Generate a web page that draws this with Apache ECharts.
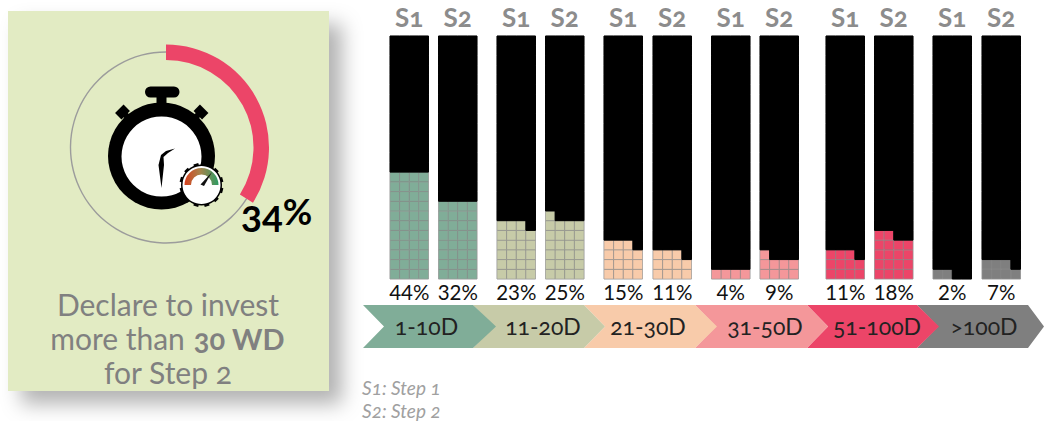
<!DOCTYPE html>
<html>
<head>
<meta charset="utf-8">
<style>
html,body{margin:0;padding:0;background:#fff}
#chart{width:1044px;height:421px}
/* old-style figures for the text set in bare Lato */
svg text[style*="Lato"]:not([style*="sans-serif"]),svg tspan[style*="Lato"]:not([style*="sans-serif"]){font-feature-settings:"onum" 1 !important;font-variant-numeric:oldstyle-nums !important}
svg text[style*="sans-serif"]{font-feature-settings:"lnum" 1 !important}
</style>
<script src="https://cdn.jsdelivr.net/npm/echarts@6/dist/echarts.min.js"></script>
</head>
<body>
<div id="chart"></div>
<script>
const categories = ['1-10D', '11-20D', '21-30D', '31-50D', '51-100D', '>100D'];
const step1Share = [44, 23, 15, 4, 11, 2];
const step2Share = [32, 25, 11, 9, 18, 7];
const stepLabels = ['S1', 'S2'];
const declaredShare = 34;
const palette = ['#80AD98', '#C7CBA8', '#F8CBAA', '#F4979A', '#EC4568', '#7F7F7F'];

// Waffle layout: 100 unit cells in 4 columns by 25 rows
const COLS = 4, ROWS = 25;
const barLefts = [390, 438.5, 497, 545.5, 604, 653, 711.5, 760, 826, 874.5, 933, 982];
const BAR_W = 38.5, BAR_TOP = 36, BAR_H = 243;
const RING = {x: 166, y: 147.5};
const oldStyle = 'Lato';
const plain = 'Lato, sans-serif';

function waffleCells(share) {
  const cells = [];
  for (let i = 0; i < COLS * ROWS; i++) {
    cells.push([i % COLS, Math.floor(i / COLS), i < share ? 1 : 0]);
  }
  return cells;
}

const grids = [], xAxes = [], yAxes = [], series = [], graphics = [];

// Panel on the left with its drop shadow
graphics.push({type: 'rect', z: 0, shape: {x: 8, y: 11, width: 321, height: 380},
  style: {fill: '#E2EBC3', shadowBlur: 20, shadowOffsetX: 13, shadowOffsetY: 13, shadowColor: 'rgba(0,0,0,0.3)'}});

// Progress ring
series.push({type: 'pie', silent: true, z: 2, center: [RING.x, RING.y], radius: [94.8, 96.2], startAngle: 90,
  label: {show: false}, labelLine: {show: false}, animation: false,
  data: [{value: declaredShare, itemStyle: {color: '#9C9C9C'}}, {value: 100 - declaredShare, itemStyle: {color: '#9C9C9C'}}]});
series.push({type: 'pie', silent: true, z: 3, center: [RING.x, RING.y], radius: [87.5, 103], startAngle: 90,
  label: {show: false}, labelLine: {show: false}, animation: false,
  data: [{value: declaredShare, itemStyle: {color: '#EC4568'}}, {value: 100 - declaredShare, itemStyle: {color: 'rgba(0,0,0,0)'}}]});

// Waffle bars, one grid per step and category
categories.forEach((cat, c) => {
  [step1Share[c], step2Share[c]].forEach((share, s) => {
    const idx = grids.length;
    const left = barLefts[idx];
    grids.push({left: left, top: BAR_TOP, width: BAR_W, height: BAR_H, show: true,
      backgroundColor: '#000', borderColor: '#C4C4C4', borderWidth: 1});
    xAxes.push({type: 'value', gridIndex: idx, min: 0, max: COLS, show: false});
    yAxes.push({type: 'value', gridIndex: idx, min: 0, max: ROWS, show: false});
    series.push({
      type: 'custom', name: cat + ' ' + stepLabels[s], xAxisIndex: idx, yAxisIndex: idx, silent: true, animation: false,
      encode: {x: 0, y: 1},
      data: waffleCells(share),
      renderItem(params, api) {
        const a = api.coord([api.value(0), api.value(1)]);
        const b = api.coord([api.value(0) + 1, api.value(1) + 1]);
        const filled = api.value(2) === 1;
        return {type: 'rect', shape: {x: a[0], y: b[1], width: b[0] - a[0], height: a[1] - b[1]},
          style: {fill: filled ? palette[c] : '#000', stroke: filled ? 'rgba(150,150,150,0.55)' : '#000', lineWidth: 1}};
      }
    });
    graphics.push({type: 'text', z: 20, style: {x: left + BAR_W / 2, y: 17, text: stepLabels[s], fill: '#8C8C8C',
      font: 'bold 26px ' + oldStyle, textAlign: 'center', textVerticalAlign: 'middle'}});
    graphics.push({type: 'text', z: 20, style: {x: left + BAR_W / 2, y: 292, text: share + '%', fill: '#111',
      font: '20.5px ' + plain, textAlign: 'center', textVerticalAlign: 'middle'}});
  });
});

// Chevron band naming the day ranges
const shoulders = [473, 584, 695, 807, 917, 1028];
const tips = [496, 605, 717, 828, 939, 1044];
const starts = [363, 473, 584, 695, 807, 917];
const labelCentres = [426.5, 543, 648, 765, 877, 984];
categories.forEach((cat, i) => {
  graphics.push({type: 'polygon', z: 16 - i, shape: {points: [
    [starts[i], 305], [shoulders[i], 305], [tips[i], 326.5], [shoulders[i], 348], [starts[i], 348], [starts[i] + 21, 326.5]]},
    style: {fill: palette[i]}});
  graphics.push({type: 'text', z: 20, style: {x: labelCentres[i], y: 326, text: cat, fill: '#222',
    font: '23px ' + oldStyle, textAlign: 'center', textVerticalAlign: 'middle'}});
});

// Stopwatch pictogram
const sw = {x: 161.5, y: 156};
graphics.push({type: 'circle', z: 5, shape: {cx: sw.x, cy: sw.y, r: 53.5}, style: {fill: '#000'}});
graphics.push({type: 'circle', z: 6, shape: {cx: sw.x, cy: sw.y + 0.5, r: 40}, style: {fill: '#fff'}});
graphics.push({type: 'rect', z: 5, shape: {x: 145, y: 86.5, width: 34.5, height: 11, r: 5.5}, style: {fill: '#000'}});
graphics.push({type: 'rect', z: 5, shape: {x: 156.5, y: 95, width: 10, height: 10}, style: {fill: '#000'}});
[[122.5, 112, Math.PI / 4], [201, 112, -Math.PI / 4]].forEach(e => {
  graphics.push({type: 'rect', z: 5, x: e[0], y: e[1], rotation: e[2],
    shape: {x: -6, y: -4.5, width: 12, height: 9}, style: {fill: '#000'}});
  graphics.push({type: 'rect', z: 5, x: e[0], y: e[1], rotation: e[2],
    shape: {x: -3, y: 0, width: 6, height: 12}, style: {fill: '#000'}});
});
graphics.push({type: 'polygon', z: 7, shape: {points: [[175, 148.5], [166, 151], [161, 155], [158.5, 165], [161.5, 188], [164, 165], [163.5, 157], [168, 153]]}, style: {fill: '#000'}});

// Speedometer badge on the stopwatch
const g = {x: 201.5, y: 185};
for (let i = 0; i < 6; i++) {
  graphics.push({type: 'rect', z: 8, x: g.x, y: g.y, rotation: i * Math.PI / 6 + 0.26,
    shape: {x: -2.5, y: -22, width: 5, height: 44}, style: {fill: '#000'}});
}
graphics.push({type: 'circle', z: 8, shape: {cx: g.x, cy: g.y, r: 20.5}, style: {fill: '#000'}});
graphics.push({type: 'circle', z: 9, shape: {cx: g.x, cy: g.y, r: 19}, style: {fill: '#fff'}});
graphics.push({type: 'sector', z: 10, shape: {cx: g.x, cy: g.y, r: 17, r0: 10.5, startAngle: Math.PI, endAngle: 2 * Math.PI},
  style: {fill: new echarts.graphic.LinearGradient(0, 0, 1, 0, [
    {offset: 0, color: '#D8401E'}, {offset: 0.45, color: '#A8824A'}, {offset: 1, color: '#2E9C64'}])}});
graphics.push({type: 'polygon', z: 11, shape: {points: [[g.x - 1, g.y - 0.5], [g.x + 10.5, g.y - 13], [g.x + 2.5, g.y + 1]]}, style: {fill: '#111'}});

// Headline figure and caption
graphics.push({type: 'text', z: 20, style: {x: 241, y: 218,
  text: '{a|' + declaredShare + '}{b|%}',
  rich: {a: {fontFamily: 'Lato, sans-serif', fontWeight: 'bold', fontSize: 36, fill: '#000'},
         b: {fontFamily: 'Lato, sans-serif', fontWeight: 'bold', fontSize: 36, fill: '#000', padding: [0, 0, 14, 0]}},
  textAlign: 'left', textVerticalAlign: 'middle'}});
graphics.push({type: 'text', z: 20, style: {x: 168, y: 338,
  text: '{a|Declare to invest}\n{a|more than }{b|30 WD}\n{a|for Step 2}',
  rich: {a: {font: '30px ' + oldStyle, fill: '#808080', lineHeight: 34},
         b: {font: 'bold 29px ' + oldStyle, fill: '#808080', lineHeight: 34}},
  textAlign: 'center', textVerticalAlign: 'middle'}});

// Step key
graphics.push({type: 'text', z: 20, style: {x: 362, y: 387, text: 'S1: Step 1', fill: '#A0A0A0', font: 'italic 19px ' + oldStyle, lineHeight: 18, textVerticalAlign: 'middle'}});
graphics.push({type: 'text', z: 20, style: {x: 362, y: 410, text: 'S2: Step 2', fill: '#A0A0A0', font: 'italic 19px ' + oldStyle, lineHeight: 18, textVerticalAlign: 'middle'}});

const chart = echarts.init(document.getElementById('chart'), null, {renderer: 'svg'});
chart.setOption({
  animation: false,
  grid: grids, xAxis: xAxes, yAxis: yAxes, series: series,
  graphic: {elements: graphics}
});
</script>
</body>
</html>
